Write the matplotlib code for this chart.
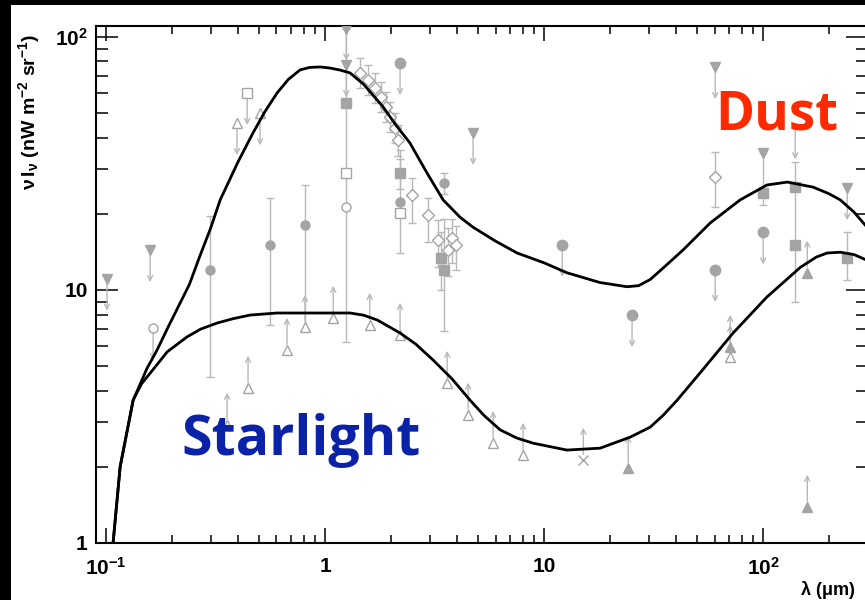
import numpy as np
import matplotlib.pyplot as plt
from matplotlib.patches import Rectangle
from matplotlib.ticker import FixedLocator, NullFormatter

plt.rcParams['font.family'] = 'Liberation Sans'
plt.rcParams['mathtext.fontset'] = 'custom'
plt.rcParams['mathtext.rm'] = 'Liberation Sans:bold'
plt.rcParams['mathtext.bf'] = 'Liberation Sans:bold'
plt.rcParams['mathtext.it'] = 'Liberation Sans:bold'

# model envelopes (wavelength in micron, nW m^-2 sr^-1)
upper_x = [0.1077, 0.116, 0.133, 0.154, 0.171, 0.19, 0.211, 0.240, 0.268, 0.300, 0.332, 0.40, 0.469,
           0.53, 0.604, 0.68, 0.769, 0.85, 0.949, 1.05, 1.17, 1.30, 1.5, 1.84, 2.1, 2.44, 2.92,
           3.46, 4.13, 4.74, 6.0, 7.53, 10.0, 12.7, 18.0, 23.9, 27.0, 30.5, 36.0, 43.1, 57.3,
           78.5, 104, 129, 169, 200, 225, 260, 298]
upper_y = [1.0, 2.0, 3.67, 4.91, 5.79, 7.0, 8.4, 10.5, 13.6, 17.5, 22.7, 32.0, 41.8,
           50.5, 60.1, 68.0, 74.1, 75.8, 76.1, 75.4, 74.0, 72.1, 65.0, 52.9, 45.0, 38.1, 29.0,
           22.7, 19.4, 17.7, 15.6, 14.0, 12.8, 11.7, 10.7, 10.3, 10.4, 11.0, 12.5, 14.4, 18.4,
           22.7, 26.0, 26.7, 25.5, 24.0, 22.7, 20.3, 17.7]
lower_x = [0.1077, 0.116, 0.133, 0.145, 0.159, 0.175, 0.190, 0.234, 0.27, 0.321, 0.38, 0.455, 0.604,
           0.769, 1.05, 1.30, 1.5, 1.73, 2.20, 2.6, 3.11, 3.8, 4.59, 5.3, 6.30, 7.5, 8.91, 12.7,
           18.0, 24.7, 30.5, 35.0, 40.5, 51.5, 72.9, 104, 148, 175, 196, 225, 260, 298]
lower_y = [1.0, 2.0, 3.67, 4.25, 4.69, 5.2, 5.69, 6.52, 7.0, 7.40, 7.7, 7.96, 8.11,
           8.11, 8.11, 8.11, 7.95, 7.61, 6.76, 6.1, 5.29, 4.45, 3.67, 3.2, 2.80, 2.6, 2.48, 2.33,
           2.37, 2.62, 2.87, 3.2, 3.67, 4.70, 6.76, 9.38, 12.3, 13.5, 14.0, 14.1, 13.8, 13.1]

# upper limits (arrow pointing down)
ul_tri_x = [0.101, 0.159, 1.25, 1.25, 4.74, 60.4, 242]
ul_tri_y = [11.1, 14.4, 108, 77.5, 41.8, 76.1, 25.3]
ul_dot_x = [2.20, 12.1, 25.2, 60.4, 100]
ul_dot_y = [78.9, 15.1, 7.96, 12.0, 16.9]
ul_ocirc_x = [0.164]
ul_ocirc_y = [7.08]
ul_osq_x = [0.441]
ul_osq_y = [60.1]
ul_otri_x = [0.396, 0.505]
ul_otri_y = [45.7, 50.0]
ul_bare_x = [140]
ul_bare_y = [44.0]

# lower limits (arrow pointing up)
ll_otri_x = [0.357, 0.445, 0.670, 0.81, 1.09, 1.60, 2.20, 3.61, 4.50, 5.85, 8.02, 70.7]
ll_otri_y = [2.93, 4.10, 5.79, 7.14, 7.75, 7.27, 6.64, 4.29, 3.21, 2.48, 2.23, 5.43]
ll_tri_x = [24.2, 159, 70.7, 159]
ll_tri_y = [1.98, 1.39, 5.95, 11.7]
ll_star_x = [15.1]
ll_star_y = [2.13]

# detections with error bars: x, y, low, high
det_dot_x = [0.298, 0.561, 0.81, 2.20, 3.49]
det_dot_y = [12.0, 15.1, 18.1, 22.3, 26.5]
det_dot_lo = [4.53, 7.27, 6.95, 14.0, 24.0]
det_dot_hi = [19.6, 23.1, 26.0, 35.8, 29.0]

det_sq_x = [1.25, 2.20, 3.39, 3.49, 100, 140, 242]
det_sq_y = [54.8, 29.0, 13.4, 12.0, 24.2, 15.1, 13.4]
det_sq_lo = [6.23, 25.0, 10.0, 6.9, 21.7, 8.97, 11.0]
det_sq_hi = [108, 33.0, 17.0, 19.0, 34.8, 32.1, 16.9]

det_dia_x = [1.445, 1.572, 1.692, 1.801, 1.899, 1.981, 2.088, 2.153, 2.50, 2.95, 3.28, 3.64, 3.80, 3.96, 60.4]
det_dia_y = [72.1, 67.6, 62.9, 58.0, 52.9, 48.3, 43.7, 39.0, 23.7, 19.8, 15.8, 14.4, 16.1, 15.1, 28.0]
det_dia_lo = [62.9, 59.0, 54.9, 50.6, 46.2, 42.1, 38.1, 34.0, 18.4, 15.5, 12.3, 11.4, 12.8, 12.0, 21.3]
det_dia_hi = [82.6, 77.5, 72.1, 66.5, 60.6, 55.3, 50.1, 44.7, 27.7, 23.1, 18.9, 17.5, 19.0, 17.9, 35.1]

# extra markers sitting on the error bars
on_osq_x = [1.25, 2.20]
on_osq_y = [29.0, 20.2]
on_ocirc_x = [1.25]
on_ocirc_y = [21.3]
on_sq_x = [140]
on_sq_y = [25.5]
on_tri_x = [100]
on_tri_y = [34.8]

GREY = '#a4a4a4'
LIGHT = '#b8b8b8'
ARROW = 1.34

fig = plt.figure(figsize=(8.65, 6.0), dpi=100, facecolor='black')
fig.add_artist(Rectangle((11 / 865, 0), 1, 595 / 600, transform=fig.transFigure,
                         facecolor='white', edgecolor='none', zorder=-10))
ax = fig.add_axes([96 / 865, 57 / 600, 772 / 865, 517 / 600])
ax.set_xscale('log')
ax.set_yscale('log')
ax.set_xlim(0.09, 301)
ax.set_ylim(1, 110.5)


def arrows(xs, ys, up, start=4):
    for x, y in zip(xs, ys):
        end = y * ARROW if up else y / ARROW
        ax.annotate('', xy=(x, end), xytext=(x, y),
                    arrowprops=dict(arrowstyle='->', color=LIGHT, lw=1.0, shrinkA=start, shrinkB=0,
                                    mutation_scale=9), zorder=2)


def errbars(xs, ys, lo, hi, fmt, filled=True):
    xs, ys = np.array(xs), np.array(ys)
    err = [ys - np.array(lo), np.array(hi) - ys]
    ax.errorbar(xs, ys, yerr=err, fmt=fmt, color=GREY, ecolor=LIGHT, elinewidth=1.0,
                capsize=3, capthick=1.0, ms=6.5, mew=1.0,
                mfc=GREY if filled else 'white', mec=GREY, zorder=2)


def markers(xs, ys, m, filled=True, ms=6.5):
    ax.plot(xs, ys, m, ls='none', ms=ms, mew=1.0, mec=GREY,
            mfc=GREY if filled else 'white', zorder=3)


errbars(det_dot_x, det_dot_y, det_dot_lo, det_dot_hi, 'o')
errbars(det_sq_x, det_sq_y, det_sq_lo, det_sq_hi, 's')
errbars(det_dia_x, det_dia_y, det_dia_lo, det_dia_hi, 'D', filled=False)

arrows(ul_tri_x, ul_tri_y, up=False)
arrows(ul_dot_x, ul_dot_y, up=False)
arrows(ul_ocirc_x, ul_ocirc_y, up=False)
arrows(ul_osq_x, ul_osq_y, up=False)
arrows(ul_otri_x, ul_otri_y, up=False)
arrows(ul_bare_x, ul_bare_y, up=False, start=0)
arrows(ll_otri_x, ll_otri_y, up=True)
arrows(ll_tri_x, ll_tri_y, up=True)
arrows(ll_star_x, ll_star_y, up=True)

markers(ul_tri_x, ul_tri_y, 'v')
markers(ul_dot_x, ul_dot_y, 'o', ms=7.5)
markers(ul_ocirc_x, ul_ocirc_y, 'o', filled=False)
markers(ul_osq_x, ul_osq_y, 's', filled=False, ms=7)
markers(ul_otri_x, ul_otri_y, '^', filled=False)
markers(ll_otri_x, ll_otri_y, '^', filled=False)
markers(ll_tri_x, ll_tri_y, '^')
markers(ll_star_x, ll_star_y, 'x')
markers(on_osq_x, on_osq_y, 's', filled=False)
markers(on_ocirc_x, on_ocirc_y, 'o', filled=False)
markers(on_sq_x, on_sq_y, 's')
markers(on_tri_x, on_tri_y, 'v')

ax.plot(upper_x, upper_y, color='black', lw=2.0, zorder=5, solid_joinstyle='round')
ax.plot(lower_x, lower_y, color='black', lw=2.0, zorder=5, solid_joinstyle='round')

# axes, ticks and labels
for s in ax.spines.values():
    s.set_linewidth(1.5)
ax.xaxis.set_major_locator(FixedLocator([0.1, 1, 10, 100]))
ax.xaxis.set_minor_locator(FixedLocator([m * d for d in (0.1, 1, 10, 100) for m in range(2, 10)]))
ax.yaxis.set_major_locator(FixedLocator([1, 10, 100]))
ax.yaxis.set_minor_locator(FixedLocator([m * d for d in (1, 10) for m in range(2, 10)]))
ax.set_xticklabels([r'$10^{-1}$', '1', '10', r'$10^{2}$'])
ax.set_yticklabels(['1', '10', r'$10^{2}$'])
ax.xaxis.set_minor_formatter(NullFormatter())
ax.yaxis.set_minor_formatter(NullFormatter())
ax.tick_params(axis='both', which='both', direction='in', top=True, right=True, width=1.1,
               labelsize=15)
ax.tick_params(axis='x', which='major', length=11, pad=10)
ax.tick_params(axis='x', which='minor', length=6)
ax.tick_params(axis='y', which='major', length=16, pad=6)
ax.tick_params(axis='y', which='minor', length=8.5)
for lab in ax.get_xticklabels() + ax.get_yticklabels():
    lab.set_fontweight('bold')

fig.text(29 / 865, 1 - 112 / 600, r'$\nu\,\mathrm{I}_{\nu}$ (nW m$^{-2}$ sr$^{-1}$)',
         rotation=90, ha='center', va='center', fontsize=14, fontweight='bold')
fig.text(800 / 865, 1 - 590 / 600, r'$\lambda$ ($\mu$m)', ha='left', va='center',
         fontsize=13, fontweight='bold')

fig.text(715 / 865, 1 - 130 / 600, 'Dust', ha='left', va='baseline', fontsize=38,
         fontweight='bold', family='Open Sans', color='#ff2a00')
fig.text(181 / 865, 1 - 455 / 600, 'Starlight', ha='left', va='baseline', fontsize=40,
         fontweight='bold', family='Open Sans', color='#0a22a8')

fig.savefig('out.png', dpi=100, facecolor=fig.get_facecolor())
